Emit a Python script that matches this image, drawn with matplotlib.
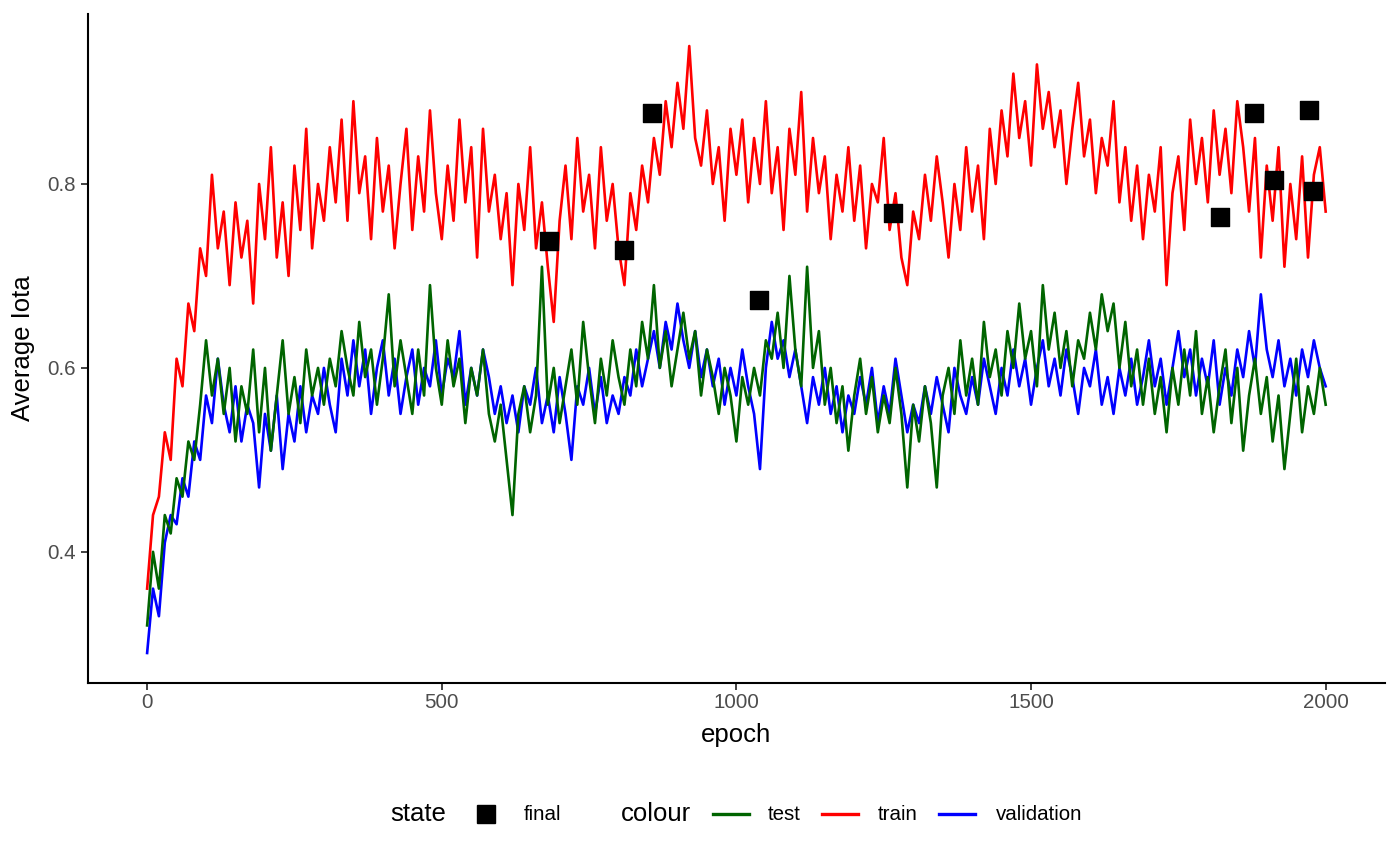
import numpy as np
import matplotlib
matplotlib.use('Agg')
import matplotlib.pyplot as plt
from matplotlib.lines import Line2D

plt.rcParams['font.family'] = ['Liberation Sans', 'DejaVu Sans']

# values every 10 epochs
epoch = list(range(0, 2001, 10))

train = [
    0.36, 0.44, 0.46, 0.53, 0.50, 0.61, 0.58, 0.67, 0.64, 0.73,
    0.70, 0.81, 0.73, 0.77, 0.69, 0.78, 0.72, 0.76, 0.67, 0.80,
    0.74, 0.84, 0.72, 0.78, 0.70, 0.82, 0.75, 0.86, 0.73, 0.80,
    0.76, 0.84, 0.78, 0.87, 0.76, 0.89, 0.79, 0.83, 0.74, 0.85,
    0.77, 0.82, 0.73, 0.80, 0.86, 0.75, 0.83, 0.77, 0.88, 0.79,
    0.74, 0.82, 0.76, 0.87, 0.78, 0.84, 0.72, 0.86, 0.77, 0.81,
    0.74, 0.79, 0.69, 0.80, 0.75, 0.84, 0.73, 0.78, 0.71, 0.65,
    0.76, 0.82, 0.74, 0.85, 0.77, 0.81, 0.73, 0.84, 0.76, 0.80,
    0.73, 0.69, 0.79, 0.75, 0.82, 0.78, 0.85, 0.81, 0.89, 0.84,
    0.91, 0.86, 0.95, 0.85, 0.82, 0.88, 0.80, 0.84, 0.76, 0.86,
    0.81, 0.87, 0.78, 0.85, 0.80, 0.89, 0.79, 0.84, 0.75, 0.86,
    0.81, 0.90, 0.77, 0.85, 0.79, 0.83, 0.74, 0.81, 0.77, 0.84,
    0.76, 0.82, 0.73, 0.80, 0.78, 0.85, 0.75, 0.79, 0.72, 0.69,
    0.77, 0.74, 0.81, 0.76, 0.83, 0.78, 0.72, 0.80, 0.75, 0.84,
    0.77, 0.82, 0.74, 0.86, 0.80, 0.88, 0.83, 0.92, 0.85, 0.89,
    0.82, 0.93, 0.86, 0.90, 0.84, 0.88, 0.80, 0.86, 0.91, 0.83,
    0.87, 0.79, 0.85, 0.82, 0.89, 0.78, 0.84, 0.76, 0.82, 0.74,
    0.81, 0.77, 0.84, 0.69, 0.79, 0.83, 0.75, 0.87, 0.80, 0.85,
    0.78, 0.88, 0.81, 0.86, 0.79, 0.89, 0.84, 0.77, 0.85, 0.72,
    0.82, 0.76, 0.84, 0.71, 0.80, 0.74, 0.83, 0.72, 0.81, 0.84,
    0.77,
]

validation = [
    0.29, 0.36, 0.33, 0.41, 0.44, 0.43, 0.48, 0.46, 0.52, 0.50,
    0.57, 0.54, 0.61, 0.56, 0.53, 0.58, 0.52, 0.56, 0.54, 0.47,
    0.55, 0.51, 0.57, 0.49, 0.55, 0.52, 0.58, 0.53, 0.57, 0.55,
    0.60, 0.56, 0.53, 0.61, 0.57, 0.63, 0.58, 0.62, 0.55, 0.60,
    0.63, 0.57, 0.61, 0.55, 0.59, 0.62, 0.56, 0.60, 0.58, 0.63,
    0.57, 0.61, 0.59, 0.64, 0.56, 0.60, 0.57, 0.62, 0.59, 0.55,
    0.58, 0.54, 0.57, 0.53, 0.58, 0.56, 0.60, 0.54, 0.57, 0.53,
    0.59, 0.55, 0.50, 0.58, 0.56, 0.60, 0.55, 0.59, 0.54, 0.57,
    0.55, 0.59, 0.57, 0.62, 0.58, 0.61, 0.64, 0.60, 0.65, 0.62,
    0.67, 0.63, 0.60, 0.64, 0.59, 0.62, 0.58, 0.61, 0.56, 0.60,
    0.57, 0.62, 0.58, 0.55, 0.49, 0.60, 0.65, 0.61, 0.63, 0.59,
    0.62, 0.58, 0.54, 0.59, 0.56, 0.60, 0.55, 0.58, 0.53, 0.57,
    0.55, 0.59, 0.56, 0.60, 0.54, 0.58, 0.55, 0.61, 0.57, 0.53,
    0.56, 0.54, 0.58, 0.55, 0.59, 0.56, 0.53, 0.60, 0.57, 0.55,
    0.59, 0.56, 0.61, 0.58, 0.55, 0.60, 0.57, 0.62, 0.58, 0.61,
    0.56, 0.60, 0.63, 0.58, 0.61, 0.57, 0.62, 0.59, 0.55, 0.60,
    0.58, 0.62, 0.56, 0.59, 0.55, 0.60, 0.57, 0.61, 0.56, 0.59,
    0.63, 0.58, 0.61, 0.56, 0.60, 0.64, 0.59, 0.62, 0.57, 0.61,
    0.58, 0.63, 0.56, 0.60, 0.57, 0.62, 0.59, 0.64, 0.60, 0.68,
    0.62, 0.59, 0.63, 0.58, 0.61, 0.57, 0.62, 0.59, 0.63, 0.60,
    0.58,
]

test = [
    0.32, 0.40, 0.36, 0.44, 0.42, 0.48, 0.46, 0.52, 0.50, 0.56,
    0.63, 0.57, 0.61, 0.55, 0.60, 0.52, 0.58, 0.55, 0.62, 0.53,
    0.60, 0.51, 0.57, 0.63, 0.55, 0.59, 0.54, 0.62, 0.57, 0.60,
    0.56, 0.61, 0.58, 0.64, 0.60, 0.57, 0.65, 0.59, 0.62, 0.56,
    0.61, 0.68, 0.58, 0.63, 0.59, 0.55, 0.62, 0.57, 0.69, 0.60,
    0.56, 0.63, 0.58, 0.61, 0.54, 0.60, 0.57, 0.62, 0.55, 0.52,
    0.56, 0.50, 0.44, 0.55, 0.58, 0.53, 0.57, 0.71, 0.56, 0.60,
    0.54, 0.58, 0.62, 0.56, 0.65, 0.59, 0.54, 0.61, 0.57, 0.63,
    0.59, 0.56, 0.62, 0.58, 0.65, 0.61, 0.69, 0.60, 0.64, 0.58,
    0.62, 0.66, 0.61, 0.64, 0.57, 0.62, 0.59, 0.55, 0.60, 0.57,
    0.52, 0.59, 0.56, 0.60, 0.57, 0.63, 0.61, 0.66, 0.60, 0.70,
    0.62, 0.58, 0.71, 0.60, 0.64, 0.56, 0.60, 0.54, 0.58, 0.51,
    0.57, 0.61, 0.55, 0.59, 0.53, 0.57, 0.54, 0.60, 0.55, 0.47,
    0.56, 0.52, 0.58, 0.54, 0.47, 0.57, 0.60, 0.55, 0.63, 0.57,
    0.61, 0.56, 0.65, 0.59, 0.62, 0.57, 0.64, 0.60, 0.67, 0.61,
    0.64, 0.58, 0.69, 0.62, 0.66, 0.60, 0.64, 0.58, 0.63, 0.61,
    0.66, 0.62, 0.68, 0.64, 0.67, 0.60, 0.65, 0.58, 0.62, 0.56,
    0.61, 0.55, 0.59, 0.53, 0.60, 0.56, 0.62, 0.57, 0.64, 0.55,
    0.59, 0.53, 0.58, 0.62, 0.54, 0.60, 0.51, 0.57, 0.61, 0.55,
    0.59, 0.52, 0.57, 0.49, 0.55, 0.61, 0.53, 0.58, 0.55, 0.60,
    0.56,
]

final_epoch = [682, 810, 856, 1039, 1265, 1820, 1879, 1913, 1971, 1978]
final_iota = [0.738, 0.728, 0.877, 0.674, 0.768, 0.764, 0.877, 0.804, 0.880, 0.792]

colours = {'test': '#006400', 'train': '#ff0000', 'validation': '#0000ff'}

fig = plt.figure(figsize=(14, 8.65), dpi=100)
ax = fig.add_axes([0.063, 0.21, 0.926, 0.774])

ax.plot(epoch, validation, color=colours['validation'], lw=1.9)
ax.plot(epoch, test, color=colours['test'], lw=1.9)
ax.plot(epoch, train, color=colours['train'], lw=1.9)
ax.scatter(final_epoch, final_iota, marker='s', s=175, color='black', zorder=5)

ax.set_xlim(-100, 2100)
ax.set_ylim(0.257, 0.985)
ax.set_xticks([0, 500, 1000, 1500, 2000])
ax.set_yticks([0.4, 0.6, 0.8])
ax.set_yticklabels(['0.4', '0.6', '0.8'])
ax.tick_params(labelsize=14.8, labelcolor='#4d4d4d', length=4.8, width=1.3, color='#333333')
ax.tick_params(axis='x', pad=2.5)
ax.tick_params(axis='y', pad=4)
for s in ['top', 'right']:
    ax.spines[s].set_visible(False)
for s in ['left', 'bottom']:
    ax.spines[s].set_linewidth(1.5)
ax.set_xlabel('epoch', fontsize=18.5, labelpad=7.5)
ax.set_ylabel('Average Iota', fontsize=18.5, labelpad=9)

# legend at the bottom, drawn by hand like ggplot's
ly = 1 - 814 / 865
W = 1400
fig.text(390 / W, ly, 'state', fontsize=18.5, va='center', ha='left')
fig.add_artist(Line2D([485.5 / W], [ly], marker='s', ms=13.5, color='black', ls='none'))
fig.text(524 / W, ly, 'final', fontsize=14.8, va='center', ha='left')
fig.text(621 / W, ly, 'colour', fontsize=18.5, va='center', ha='left')
for name, x0, tx in [('test', 713, 768), ('train', 822, 878), ('validation', 939, 996)]:
    fig.add_artist(Line2D([x0 / W, (x0 + 36) / W], [ly, ly], color=colours[name], lw=2.4))
    fig.text(tx / W, ly, name, fontsize=14.8, va='center', ha='left')

fig.savefig('out.png', dpi=100)
